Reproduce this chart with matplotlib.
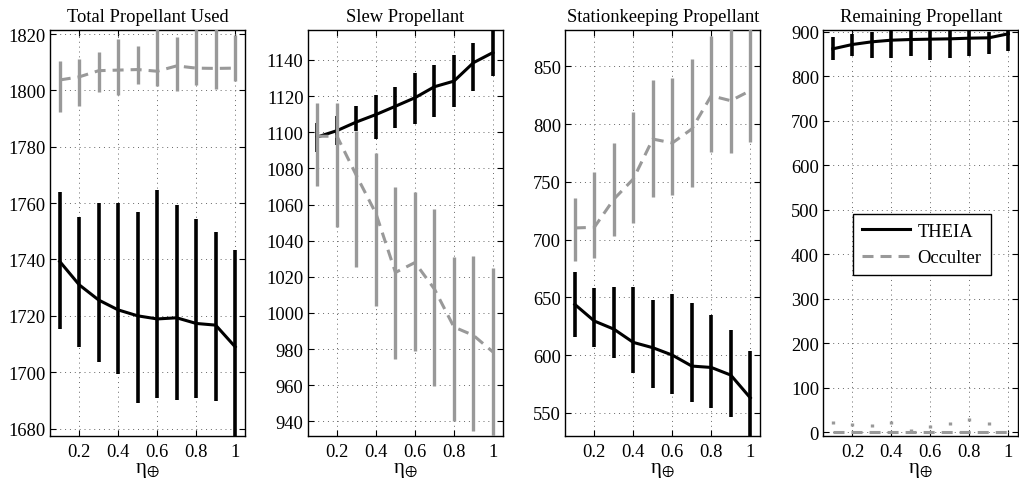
import matplotlib
matplotlib.use('Agg')
import matplotlib.pyplot as plt
import numpy as np

plt.rcParams['font.family'] = ['Liberation Serif', 'DejaVu Serif']
plt.rcParams['mathtext.fontset'] = 'stix'
plt.rcParams['font.size'] = 13.3

eta = [0.1, 0.2, 0.3, 0.4, 0.5, 0.6, 0.7, 0.8, 0.9, 1.0]

# total propellant used
theia_tot = [1739.3, 1731.0, 1725.6, 1722.1, 1720.0, 1718.9, 1719.3, 1717.3, 1716.7, 1709.0]
theia_tot_lo = [1715.2, 1709.0, 1703.7, 1699.2, 1689.0, 1690.8, 1690.1, 1690.8, 1689.8, 1674.0]
theia_tot_hi = [1763.9, 1755.1, 1759.9, 1759.9, 1757.0, 1764.6, 1759.4, 1754.2, 1749.9, 1743.5]
occ_tot = [1803.7, 1804.8, 1807.0, 1807.2, 1807.4, 1806.8, 1808.7, 1807.9, 1807.8, 1807.9]
occ_tot_lo = [1792.4, 1794.3, 1799.6, 1798.4, 1802.3, 1801.7, 1799.8, 1801.9, 1800.5, 1803.2]
occ_tot_hi = [1810.5, 1811.0, 1813.5, 1818.2, 1815.8, 1823.0, 1818.8, 1823.0, 1823.0, 1819.6]

# slew propellant
theia_slew = [1097.4, 1100.9, 1105.7, 1109.8, 1114.4, 1119.1, 1125.2, 1128.3, 1138.5, 1144.1]
theia_slew_lo = [1089.0, 1093.0, 1100.5, 1096.0, 1102.4, 1104.8, 1108.5, 1114.1, 1122.8, 1131.1]
theia_slew_hi = [1105.0, 1109.0, 1114.7, 1120.7, 1125.0, 1132.6, 1137.4, 1142.6, 1149.6, 1160.0]
occ_slew = [1097.8, 1097.8, 1076.0, 1055.0, 1022.4, 1027.9, 1013.2, 992.2, 987.6, 978.4]
occ_slew_lo = [1070.0, 1047.8, 1025.7, 1003.7, 974.4, 978.8, 959.6, 940.0, 934.5, 925.0]
occ_slew_hi = [1116.4, 1116.4, 1100.5, 1088.4, 1069.8, 1066.9, 1057.6, 1031.2, 1031.5, 1024.6]

# stationkeeping propellant
theia_sk = [643.9, 629.5, 622.5, 611.0, 606.4, 600.0, 590.5, 589.3, 582.7, 563.0]
theia_sk_lo = [615.9, 606.9, 597.1, 584.1, 571.1, 565.9, 559.5, 554.3, 546.5, 520.0]
theia_sk_hi = [672.3, 657.8, 659.2, 658.7, 647.7, 652.6, 644.8, 634.7, 621.7, 603.5]
occ_sk = [710.1, 710.7, 735.0, 752.5, 787.1, 783.7, 795.8, 824.6, 820.3, 829.0]
occ_sk_lo = [681.5, 683.8, 703.5, 714.4, 736.6, 738.7, 745.3, 776.2, 775.0, 784.2]
occ_sk_hi = [735.8, 758.3, 783.7, 810.8, 838.2, 839.6, 856.1, 876.0, 885.0, 885.0]

# remaining propellant
theia_rem = [861.7, 871.5, 877.5, 881.2, 882.7, 883.5, 884.2, 885.7, 886.5, 895.5]
theia_rem_lo = [836.2, 845.2, 840.0, 840.0, 845.2, 836.2, 840.7, 846.7, 851.2, 856.5]
theia_rem_hi = [888.7, 896.0, 900.0, 905.0, 901.5, 905.0, 901.5, 901.5, 900.0, 905.0]
occ_rem = [0.0, 0.0, 0.0, 0.0, 0.0, 0.0, 0.0, 0.0, 0.0, 0.0]
occ_rem_lo = [-24.7, -21.0, -17.3, -24.0, -6.7, -15.0, -23.3, -30.8, -23.3, 0.0]
occ_rem_hi = [24.7, 21.0, 17.3, 24.0, 6.7, 15.0, 23.3, 30.8, 23.3, 0.0]

titles = ['Total Propellant Used', 'Slew Propellant',
          'Stationkeeping Propellant', 'Remaining Propellant']
ylims = [(1677.3, 1821.5), (931.8, 1156.7), (529.8, 881.7), (-9, 904.5)]
yticks = [np.arange(1680, 1821, 20), np.arange(940, 1141, 20),
          np.arange(550, 851, 50), np.arange(0, 901, 100)]
lefts = [0.049, 0.3017, 0.554, 0.807]

gray = '#999999'
dash = (0, (3.6, 2.3))

fig = plt.figure(figsize=(10.2, 4.89), dpi=100)

panels = [
    (theia_tot, theia_tot_lo, theia_tot_hi, occ_tot, occ_tot_lo, occ_tot_hi),
    (theia_slew, theia_slew_lo, theia_slew_hi, occ_slew, occ_slew_lo, occ_slew_hi),
    (theia_sk, theia_sk_lo, theia_sk_hi, occ_sk, occ_sk_lo, occ_sk_hi),
]

for i in range(4):
    ax = fig.add_axes([lefts[i], 0.106, 0.1915, 0.831])
    if i < 3:
        t, tlo, thi, o, olo, ohi = panels[i]
        ht = ax.errorbar(eta, t, yerr=[np.subtract(t, tlo), np.subtract(thi, t)],
                         color='k', lw=2.2, elinewidth=2.6, capsize=0, zorder=2)
        # occulter drawn on top of THEIA, as in the original
        ho = ax.errorbar(eta, o, yerr=[np.subtract(o, olo), np.subtract(ohi, o)],
                         color=gray, ls=dash, lw=2.2, elinewidth=2.4, capsize=0,
                         zorder=3)
    else:
        ht = ax.errorbar(eta, theia_rem,
                         yerr=[np.subtract(theia_rem, theia_rem_lo),
                               np.subtract(theia_rem_hi, theia_rem)],
                         color='k', lw=2.2, elinewidth=2.6, capsize=0)
        ho = ax.plot(eta, occ_rem, color=gray, ls=dash, lw=2.2)
        # dashed error bars (only the top piece of each one shows)
        ax.vlines(eta, occ_rem_hi, occ_rem_lo, colors=gray, lw=2.4,
                  linestyles=[(0, (0.9, 40))])
        ax.legend([ht[0], ho[0]], ['THEIA', 'Occulter'], loc='center',
                  bbox_to_anchor=(0.506, 0.472), fancybox=False, framealpha=1,
                  edgecolor='k', handlelength=2.6, borderpad=0.5,
                  labelspacing=0.5, handletextpad=0.4)
        ax.get_legend().get_frame().set_linewidth(1.0)

    ax.set_xlim(0.05, 1.052)
    ax.set_ylim(*ylims[i])
    ax.set_xticks([0.2, 0.4, 0.6, 0.8, 1.0])
    ax.set_xticklabels(['0.2', '0.4', '0.6', '0.8', '1'])
    ax.set_yticks(yticks[i])
    ax.tick_params(direction='in', length=4, width=0.8, top=True, right=True)
    ax.tick_params(axis='y', pad=3)
    ax.tick_params(axis='x', pad=5)
    ax.grid(True, color='0.4', lw=0.7, ls=(0, (1, 4)))
    for s in ax.spines.values():
        s.set_linewidth(1.0)
    ax.set_title(titles[i], fontsize=13.3, pad=6)
    ax.set_xlabel('η$_{\\oplus}$', fontsize=15, labelpad=0)

fig.savefig('out.png', dpi=100)
